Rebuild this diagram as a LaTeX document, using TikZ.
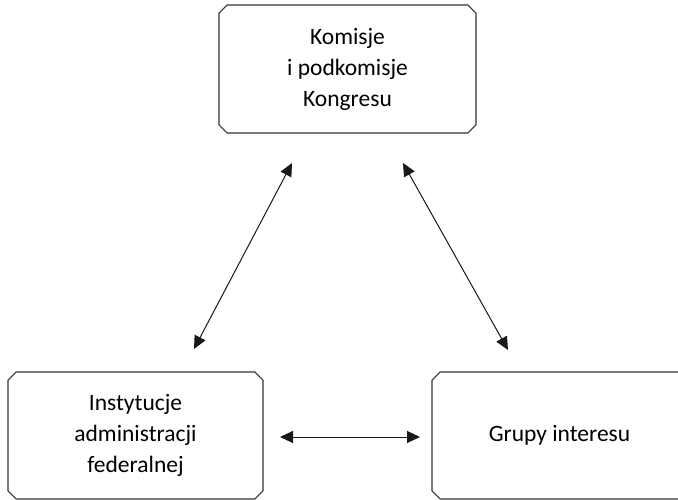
\documentclass[tikz,border=0pt]{standalone}
\usepackage{fontspec}
\setmainfont{Carlito}
\usetikzlibrary{arrows.meta,shapes.misc}
\begin{document}
\begin{tikzpicture}[x=1pt,y=-1pt,
  box/.style={chamfered rectangle, chamfered rectangle xsep=5pt,
    draw=black!80, line width=1.1pt, align=center,
    font=\fontsize{23.5}{31}\selectfont, inner sep=0pt},
  link/.style={draw=black!90, line width=1pt,
    {Triangle[length=13pt,width=12pt]}-{Triangle[length=13pt,width=12pt]}}]
  \useasboundingbox (0,0) rectangle (678,500);
  % the three actors
  \node[box, minimum width=257pt, minimum height=128pt] (kongres) at (347.5,69)
    {Komisje\\i podkomisje\\Kongresu};
  \node[box, minimum width=255pt, minimum height=127pt] (admin) at (135.5,435.5)
    {Instytucje\\administracji\\federalnej};
  \node[box, minimum width=255pt, minimum height=127pt] (grupy) at (559.5,435.5)
    {Grupy interesu};
  % arrow end points
  \coordinate (ka) at (292,163);
  \coordinate (ak) at (194,349);
  \coordinate (kg) at (403,163);
  \coordinate (gk) at (508,350);
  \coordinate (ag) at (280,437);
  \coordinate (ga) at (420,437);
  % two-way relations
  \draw[link] (ka) -- (ak);
  \draw[link] (kg) -- (gk);
  \draw[link] (ag) -- (ga);
\end{tikzpicture}
\end{document}
